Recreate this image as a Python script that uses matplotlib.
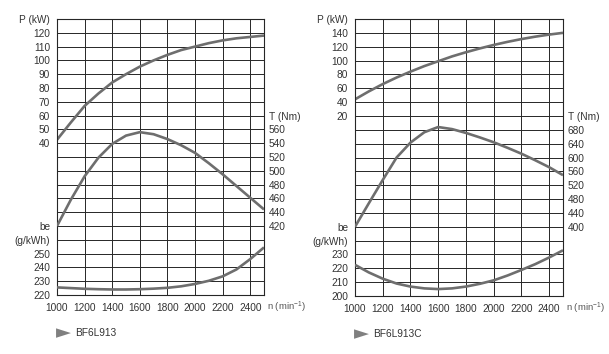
import numpy as np
import matplotlib
matplotlib.use('Agg')
import matplotlib.pyplot as plt

plt.rcParams['font.family'] = ['Liberation Sans', 'DejaVu Sans']

rpm = [1000, 1100, 1200, 1300, 1400, 1500, 1600, 1700, 1800,
       1900, 2000, 2100, 2200, 2300, 2400, 2500]

# BF6L913
p_a = [42.5, 55, 67, 76, 84, 90, 95.5, 100, 104, 107.5, 110, 112.5, 114.5, 116, 117, 118]
t_a = [420, 458, 492, 519, 539, 551, 556, 553, 546, 537, 526, 511, 495, 478, 461, 444]
be_a = [225.5, 225, 224.5, 224.2, 224, 224, 224.2, 224.6, 225.2, 226.3, 228, 230.3, 233.5, 238.5, 246, 254.5]

# BF6L913C
p_c = [44, 55.5, 66, 75.5, 84, 92, 99, 106, 112, 117.5, 122.5, 127, 131, 134.5, 137.5, 140]
t_c = [400, 468, 535, 600, 643, 673, 688, 682, 671, 658, 644, 628, 611, 592, 572, 549]
be_c = [222.5, 217, 212.5, 209, 206.8, 205.5, 205, 205.5, 206.8, 208.8, 211.3, 214.8, 218.8, 223, 227.8, 233]

x_ticks = [1000, 1200, 1400, 1600, 1800, 2000, 2200, 2400]

LINE = '#6e6e6e'
TXT = '#333333'
GRID = '#262626'
FS = 7.3
NROWS = 20


def panel(rect, name, p, t, be, p_top, p_step, p_labels, t_top, t_step, t_labels,
          be_bot, be_step, be_labels):
    ax = fig.add_axes(rect)
    # P axis (left)
    p_rows = [p_top - p_step * r for r in range(NROWS + 1)]
    ax.set_ylim(p_rows[-1], p_rows[0])
    ax.set_yticks(p_rows)
    lbls = []
    for v in p_rows:
        if v == p_top:
            lbls.append('P (kW)')
        elif v in p_labels:
            lbls.append(str(v))
        else:
            lbls.append('')
    ax.set_yticklabels(lbls)
    ax.set_xlim(1000, 2500)
    ax.set_xticks(x_ticks)
    ax.grid(True, color=GRID, lw=0.7)
    ax.set_axisbelow(True)
    ax.tick_params(length=0, labelsize=FS, labelcolor=TXT, pad=5)
    ax.tick_params(axis='x', pad=6)
    for s in ax.spines.values():
        s.set_color(GRID)
        s.set_linewidth(0.8)
    ax.plot(rpm, p, color=LINE, lw=1.9, solid_capstyle='butt')

    # T axis (right)
    axt = ax.twinx()
    axt.set_ylim(t_top - t_step * NROWS, t_top)
    tt = list(t_labels) + [t_labels[-1] + t_step]
    axt.set_yticks(tt)
    axt.set_yticklabels([str(v) for v in t_labels] + ['T (Nm)'])
    axt.tick_params(length=0, labelsize=FS, labelcolor=TXT, pad=3.5)
    axt.plot(rpm, t, color=LINE, lw=1.9, solid_capstyle='butt')
    axt.set_xlim(1000, 2500)

    # be axis (left, lower part)
    axb = ax.twinx()
    axb.set_ylim(be_bot, be_bot + be_step * NROWS)
    axb.yaxis.set_ticks_position('left')
    bt = list(be_labels) + [be_labels[-1] + be_step, be_labels[-1] + 2 * be_step]
    axb.set_yticks(bt)
    axb.set_yticklabels([str(v) for v in be_labels] + ['(g/kWh)', 'be'])
    axb.tick_params(length=0, labelsize=FS, labelcolor=TXT, pad=5)
    axb.plot(rpm, be, color=LINE, lw=1.9, solid_capstyle='butt')
    axb.set_xlim(1000, 2500)
    for a in (axt, axb):
        for s in a.spines.values():
            s.set_visible(False)

    ax.annotate('n (min$^{\\mathregular{-1}}$)', xy=(1, 0), xycoords='axes fraction',
                xytext=(3, -12), textcoords='offset pixels', ha='left', va='center',
                fontsize=6.8, color='#555555')
    ax.annotate('\u25ba', xy=(0, 0), xycoords='axes fraction', xytext=(-1, -38),
                textcoords='offset pixels', ha='left', va='center', fontsize=14,
                color='#808080', family='DejaVu Sans')
    ax.annotate(name, xy=(0, 0), xycoords='axes fraction', xytext=(18, -38),
                textcoords='offset pixels', ha='left', va='center', fontsize=FS, color=TXT)


W, H = 609, 354
fig = plt.figure(figsize=(W / 100, H / 100), dpi=100)

panel([57 / W, (H - 295) / H, 207 / W, 276 / H], 'BF6L913', p_a, t_a, be_a,
      130, 10, [120, 110, 100, 90, 80, 70, 60, 50, 40],
      720, 20, [420, 440, 460, 480, 500, 520, 540, 560],
      220, 10, [220, 230, 240, 250])

panel([355 / W, (H - 296) / H, 208 / W, 277 / H], 'BF6L913C', p_c, t_c, be_c,
      160, 20, [140, 120, 100, 80, 60, 40, 20],
      1000, 40, [400, 440, 480, 520, 560, 600, 640, 680],
      200, 10, [200, 210, 220, 230])

fig.savefig('out.png', dpi=100)
